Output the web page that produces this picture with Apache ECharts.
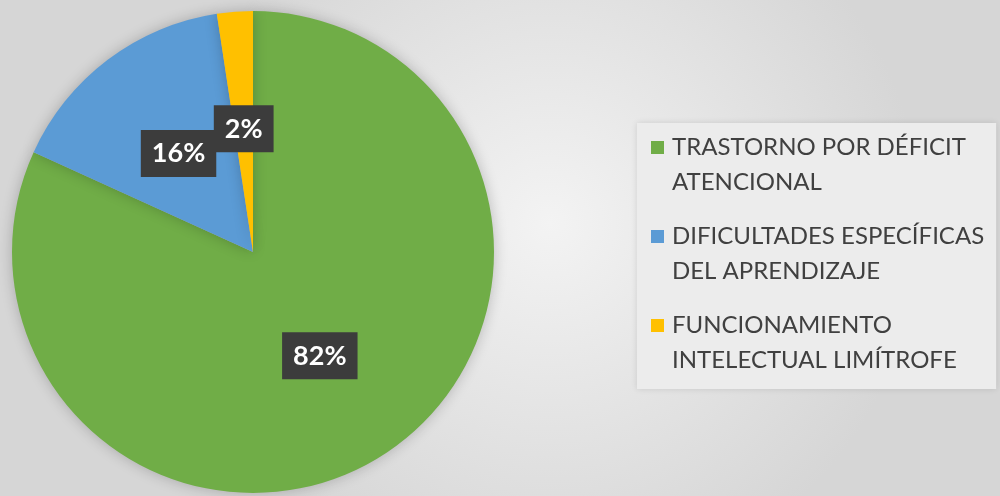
<!DOCTYPE html>
<html>
<head>
<meta charset="utf-8">
<script src="https://cdn.jsdelivr.net/npm/echarts@6/dist/echarts.min.js"></script>
<style>
  * { margin: 0; padding: 0; }
  #chart { width: 1000px; height: 496px; }
</style>
</head>
<body>
<div id="chart"></div>
<script>
// legend names keep the two-line breaks of the original
const categories = [
  "TRASTORNO POR DÉFICIT\nATENCIONAL",
  "DIFICULTADES ESPECÍFICAS\nDEL APRENDIZAJE",
  "FUNCIONAMIENTO\nINTELECTUAL LIMÍTROFE",
];
const values = [81.8, 15.8, 2.4];
const colors = ["#70AD47", "#5B9BD5", "#FFC000"];

const chart = echarts.init(document.getElementById("chart"), null, { renderer: "canvas" });

const option = {
  backgroundColor: new echarts.graphic.RadialGradient(0.55, 0.45, 0.75, [
    { offset: 0, color: "#f3f3f3" },
    { offset: 1, color: "#d6d6d6" },
  ]),
  color: colors,
  legend: {
    orient: "vertical",
    left: 637,
    top: 123,
    padding: [7, 12, 11, 14],
    backgroundColor: "#ececec",
    shadowColor: "rgba(0,0,0,0.12)",
    shadowBlur: 6,
    itemWidth: 13,
    itemHeight: 48,
    itemGap: 19,
    // square at the top of a tall box so it lines up with the first text line
    icon: "path://M0,0H13V13H0Z M0,48H13V48H0Z",
    itemStyle: { borderWidth: 0 },
    textStyle: {
      fontFamily: "Lato",
      fontSize: 24,
      lineHeight: 35,
      color: "#404040",
      padding: [0, 0, 0, 3],
    },
    data: categories,
  },
  series: [
    {
      type: "pie",
      center: [253, 252],
      radius: 241,
      startAngle: 90,
      clockwise: true,
      percentPrecision: 0,
      avoidLabelOverlap: false,
      silent: true,
      itemStyle: {
        borderWidth: 0,
        shadowBlur: 14,
        shadowColor: "rgba(0,0,0,0.22)",
      },
      label: {
        show: true,
        position: "inside",
        formatter: "{d}%",
        color: "#ffffff",
        fontFamily: "Lato",
        fontWeight: "bold",
        fontSize: 27,
        backgroundColor: "#3c3c3c",
        padding: [11, 11, 9, 11],
      },
      labelLine: { show: false },
      labelLayout: { hideOverlap: false },
      data: categories.map((name, i) => ({ name: name, value: values[i] })),
    },
  ],
};

chart.setOption(option);
window.addEventListener("resize", chart.resize);
</script>
</body>
</html>
